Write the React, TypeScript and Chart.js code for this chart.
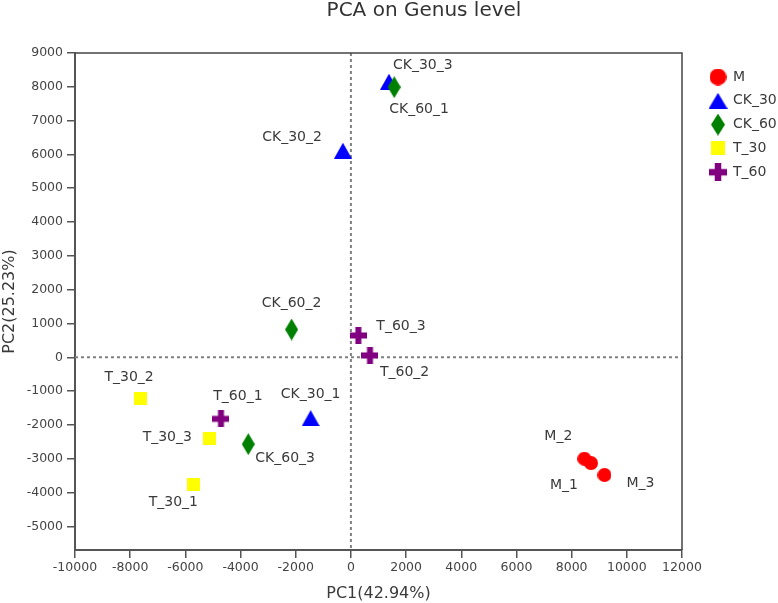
import React, { useEffect, useRef } from "react";
import { Chart, registerables } from "chart.js";

Chart.register(...registerables);

// ---- data ----
const groupNames = ["M", "CK_30", "CK_60", "T_30", "T_60"];
const groupColors = ["#FF0000", "#0000FF", "#008000", "#FFFF00", "#800080"];
const groupShapes = ["circle", "triangle", "diamond", "square", "cross"];

const mLabels = ["M_1", "M_2", "M_3"];
const mX = [8700, 8460, 9190];
const mY = [-3130, -3000, -3480];

const ck30Labels = ["CK_30_1", "CK_30_2", "CK_30_3"];
const ck30X = [-1460, -290, 1380];
const ck30Y = [-1800, 6110, 8150];

const ck60Labels = ["CK_60_1", "CK_60_2", "CK_60_3"];
const ck60X = [1570, -2150, -3720];
const ck60Y = [7990, 820, -2570];

const t30Labels = ["T_30_1", "T_30_2", "T_30_3"];
const t30X = [-5710, -7640, -5110];
const t30Y = [-3770, -1210, -2390];

const t60Labels = ["T_60_1", "T_60_2", "T_60_3"];
const t60X = [-4710, 690, 270];
const t60Y = [-1820, 55, 645];

const xTickValues = [-10000, -8000, -6000, -4000, -2000, 0, 2000, 4000, 6000, 8000, 10000, 12000];
const yTickValues = [-5000, -4000, -3000, -2000, -1000, 0, 1000, 2000, 3000, 4000, 5000, 6000, 7000, 8000, 9000];

const titleText = "PCA on Genus level";
const xTitle = "PC1(42.94%)";
const yTitle = "PC2(25.23%)";

// label placement relative to its point: [dx, dy, align]
const labelPlacement: Record<string, [number, number, CanvasTextAlign]> = {
  CK_30_3: [4, -16, "left"],
  CK_60_1: [-5, 22, "left"],
  CK_30_2: [-21, -13, "right"],
  CK_60_2: [0, -26, "center"],
  T_60_3: [18, -9, "left"],
  T_60_2: [10, 17, "left"],
  T_30_2: [-11, -21, "center"],
  T_60_1: [17, -22, "center"],
  CK_30_1: [0, -24, "center"],
  T_30_3: [-18, -1, "right"],
  CK_60_3: [7, 14, "left"],
  T_30_1: [-20, 18, "center"],
  M_2: [-26, -22, "center"],
  M_1: [-27, 22, "center"],
  M_3: [22, 8, "left"],
};

const FONT = "'DejaVu Sans', Verdana, sans-serif";

function makeMarker(shape: string, color: string, big: boolean): HTMLCanvasElement {
  const c = document.createElement("canvas");
  let w = 14, h = 14;
  if (shape === "circle") { w = h = big ? 17 : 14; }
  if (shape === "triangle") { w = big ? 19 : 18; h = big ? 16 : 16; }
  if (shape === "diamond") { w = big ? 14 : 13; h = 22; }
  if (shape === "square") { w = h = big ? 14 : 13; }
  if (shape === "cross") { w = h = big ? 18 : 17; }
  c.width = w;
  c.height = h;
  const ctx = c.getContext("2d")!;
  ctx.fillStyle = color;
  ctx.beginPath();
  if (shape === "circle") {
    ctx.arc(w / 2, h / 2, w / 2, 0, Math.PI * 2);
  } else if (shape === "triangle") {
    ctx.moveTo(w / 2, 0);
    ctx.lineTo(w, h);
    ctx.lineTo(0, h);
    ctx.closePath();
  } else if (shape === "diamond") {
    ctx.moveTo(w / 2, 0);
    ctx.lineTo(w, h / 2);
    ctx.lineTo(w / 2, h);
    ctx.lineTo(0, h / 2);
    ctx.closePath();
  } else if (shape === "square") {
    ctx.rect(0, 0, w, h);
  } else if (shape === "cross") {
    const a = big ? 6.5 : 6;
    const o = (w - a) / 2;
    ctx.rect(o, 0, a, h);
    ctx.rect(0, o, w, a);
  }
  ctx.fill();
  return c;
}

export default function App() {
  const canvasRef = useRef<HTMLCanvasElement | null>(null);

  useEffect(() => {
    if (!canvasRef.current) return;

    const xs = [mX, ck30X, ck60X, t30X, t60X];
    const ys = [mY, ck30Y, ck60Y, t30Y, t60Y];
    const labels = [mLabels, ck30Labels, ck60Labels, t30Labels, t60Labels];

    const plotMarkers = groupNames.map((_, i) => makeMarker(groupShapes[i], groupColors[i], false));
    const legendMarkers = groupNames.map((_, i) => makeMarker(groupShapes[i], groupColors[i], true));

    const datasets = groupNames.map((name, i) => ({
      label: name,
      data: xs[i].map((x, j) => ({ x, y: ys[i][j] })),
      pointStyle: plotMarkers[i] as any,
      backgroundColor: groupColors[i],
      borderColor: groupColors[i],
      pointRadius: 8,
      order: groupNames.length - i,
      labelsText: labels[i],
    }));

    const decorPlugin = {
      id: "decor",
      beforeDatasetsDraw(chart: any) {
        const { ctx, chartArea: a, scales } = chart;
        const x0 = scales.x.getPixelForValue(0);
        const y0 = scales.y.getPixelForValue(0);
        ctx.save();
        ctx.strokeStyle = "#808080";
        ctx.lineWidth = 2;
        ctx.setLineDash([3, 3]);
        ctx.beginPath();
        ctx.moveTo(x0, a.top);
        ctx.lineTo(x0, a.bottom);
        ctx.moveTo(a.left, y0);
        ctx.lineTo(a.right, y0);
        ctx.stroke();
        ctx.setLineDash([]);
        ctx.strokeStyle = "#444";
        ctx.lineWidth = 1.5;
        ctx.beginPath();
        ctx.moveTo(a.left, a.top);
        ctx.lineTo(a.right, a.top);
        ctx.lineTo(a.right, a.bottom);
        ctx.stroke();
        ctx.restore();
      },
      afterDatasetsDraw(chart: any) {
        const { ctx } = chart;
        ctx.save();
        ctx.font = `14px ${FONT}`;
        ctx.fillStyle = "#3a3a3a";
        ctx.textBaseline = "middle";
        chart.data.datasets.forEach((ds: any, i: number) => {
          const meta = chart.getDatasetMeta(i);
          meta.data.forEach((pt: any, j: number) => {
            const txt = ds.labelsText[j];
            const p = labelPlacement[txt] || [0, -20, "center"];
            ctx.textAlign = p[2];
            ctx.fillText(txt, pt.x + p[0], pt.y + p[1]);
          });
        });
        // title
        ctx.font = `20px ${FONT}`;
        ctx.textAlign = "center";
        ctx.textBaseline = "alphabetic";
        ctx.fillStyle = "#333";
        ctx.fillText(titleText, 424, 16);
        // legend
        ctx.font = `14px ${FONT}`;
        ctx.textAlign = "left";
        ctx.textBaseline = "middle";
        ctx.fillStyle = "#3a3a3a";
        groupNames.forEach((name, i) => {
          const cy = 77 + i * 23.8;
          const m = legendMarkers[i];
          ctx.drawImage(m, 718 - m.width / 2, cy - m.height / 2);
          ctx.fillText(name, 733, cy);
        });
        ctx.restore();
      },
    };

    const chart = new Chart(canvasRef.current, {
      type: "scatter",
      data: { datasets: datasets as any },
      options: {
        animation: false,
        responsive: false,
        devicePixelRatio: 1,
        layout: { padding: { top: 53, right: 96, left: 0, bottom: 0 } },
        plugins: {
          legend: { display: false },
          tooltip: { enabled: false },
          title: { display: false },
        },
        scales: {
          x: {
            type: "linear",
            min: -10000,
            max: 12000,
            afterFit(scale: any) { scale.height = 53; },
            afterBuildTicks(scale: any) { scale.ticks = xTickValues.map((v) => ({ value: v })); },
            ticks: {
              color: "#444",
              font: { family: FONT, size: 12.5 },
              padding: 2,
              maxRotation: 0,
              autoSkip: false,
              callback: (v: any) => String(v),
            },
            grid: { drawOnChartArea: false, drawTicks: true, tickLength: 8, color: "#555", lineWidth: 1.5 },
            border: { display: true, color: "#555", width: 2 },
            title: { display: true, text: xTitle, color: "#3a3a3a", font: { family: FONT, size: 16 }, padding: { top: 0, bottom: 0 } },
          },
          y: {
            type: "linear",
            min: -5700,
            max: 9000,
            afterFit(scale: any) { scale.width = 75; },
            afterBuildTicks(scale: any) { scale.ticks = yTickValues.map((v) => ({ value: v })); },
            ticks: {
              color: "#444",
              font: { family: FONT, size: 12.5 },
              padding: 4,
              autoSkip: false,
              callback: (v: any) => String(v),
            },
            grid: { drawOnChartArea: false, drawTicks: true, tickLength: 8, color: "#555", lineWidth: 1.5 },
            border: { display: true, color: "#555", width: 2 },
            title: { display: true, text: yTitle, color: "#3a3a3a", font: { family: FONT, size: 16 }, padding: { top: 0, bottom: 0 } },
          },
        },
      },
      plugins: [decorPlugin],
    });

    return () => chart.destroy();
  }, []);

  return (
    <div style={{ position: "absolute", left: 0, top: 0, width: 778, height: 603, background: "#fff" }}>
      <canvas ref={canvasRef} width={778} height={603} style={{ display: "block", width: 778, height: 603 }} />
    </div>
  );
}
